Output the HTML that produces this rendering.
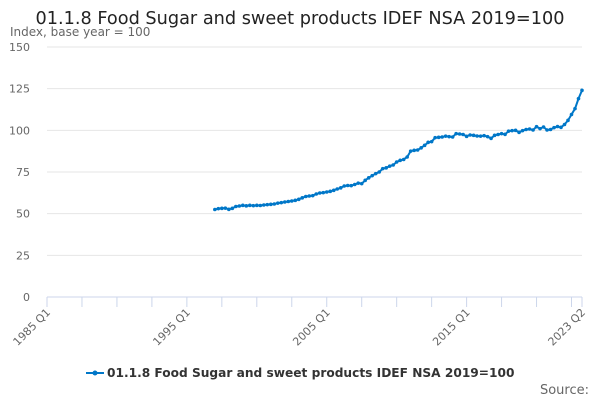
<!DOCTYPE html>
<html><head><meta charset="utf-8"><style>
body{margin:0;background:#fff;font-family:"Liberation Sans","DejaVu Sans",sans-serif}
svg text{font-family:"DejaVu Sans","Liberation Sans",sans-serif}
</style></head><body>
<svg id="chart" width="600" height="400">
<text x="300" y="24" text-anchor="middle" font-size="17.7" fill="#222">01.1.8 Food Sugar and sweet products IDEF NSA 2019=100</text>
<text x="10" y="36" font-size="12" fill="#666">Index, base year = 100</text>
<g id="grid"></g><g id="xaxis"></g><g id="series"></g>
<g>
<line x1="86" y1="373" x2="104" y2="373" stroke="#0077c8" stroke-width="2"/>
<circle cx="95" cy="373" r="2.5" fill="#0077c8"/>
<text x="107" y="377" font-size="12.2" font-weight="bold" fill="#333">01.1.8 Food Sugar and sweet products IDEF NSA 2019=100</text>
</g>
<text x="589" y="394" text-anchor="end" font-size="13" fill="#666">Source:</text>
</svg>
<script>
const yTicks=[0,25,50,75,100,125,150];
const xLabels=["1985 Q1","1995 Q1","2005 Q1","2015 Q1","2023 Q2"];
const xLabelIdx=[0,40,80,120,153];
const startIdx=48; // 1997 Q1
const values=[52.5,53,53.2,53.3,52.6,53.2,54.3,54.6,55,54.7,55,54.8,55,54.9,55.2,55.4,55.6,55.8,56.3,56.6,57,57.3,57.6,58,58.6,59.5,60.3,60.6,60.8,61.8,62.4,62.6,63,63.4,64,64.8,65.5,66.6,66.9,66.8,67.5,68.3,68,70,71.5,72.8,74,75,77,77.5,78.5,79.2,81,82,82.5,84,87.5,88,88.2,89.5,91,92.8,93.2,95.6,95.8,96,96.5,96.2,96,98,97.8,97.5,96.4,97.2,97,96.6,96.5,96.8,96.2,95.2,97,97.5,98,97.6,99.5,99.8,100,98.8,99.8,100.5,100.8,100.2,102.2,101,102,100.2,100.5,101.6,102.3,101.8,103.5,106,109.5,113,119,124];
const NS="http://www.w3.org/2000/svg";
const x0=47,x1=582,nQ=153,yb=297,yt=47;
const X=i=>x0+(x1-x0)*i/nQ, Y=v=>yb-(yb-yt)*v/150;
function mk(t,a,p){const e=document.createElementNS(NS,t);for(const k in a)e.setAttribute(k,a[k]);p.appendChild(e);return e;}
const g=document.getElementById('grid');
yTicks.forEach(v=>{
 const l=mk('line',{x1:x0,x2:x1,y1:Y(v),y2:Y(v),stroke:v?'#e6e6e6':'#ccd6eb','stroke-width':1},g);
 
 
 const t=mk('text',{x:30,y:Y(v)+4,'text-anchor':'end','font-size':11,fill:'#666'},g);t.textContent=v;
 
 
});
const xa=document.getElementById('xaxis');
const tk=[];for(let i=0;i<=nQ;i+=10)tk.push(i);tk.push(nQ);
tk.forEach(i=>{const l=mk('line',{x1:X(i),x2:X(i),y1:yb,y2:yb+10,stroke:'#ccd6eb'},xa);
 
 });
xLabels.forEach((s,k)=>{const x=X(xLabelIdx[k]);const t=mk('text',{x:x+4,y:yb+16,'text-anchor':'end','font-size':11,fill:'#666',transform:`rotate(-45 ${x+4} ${yb+16})`},xa);t.textContent=s;
 
 });
const s=document.getElementById('series');
const pts=values.map((v,i)=>X(startIdx+i)+','+Y(v)).join(' ');
const pl=mk('polyline',{points:pts,fill:'none',stroke:'#0077c8','stroke-width':2},s);


values.forEach((v,i)=>{const c=mk('circle',{cx:X(startIdx+i),cy:Y(v),r:1.8,fill:'#0077c8'},s);
 
 });
</script>
</body></html>
